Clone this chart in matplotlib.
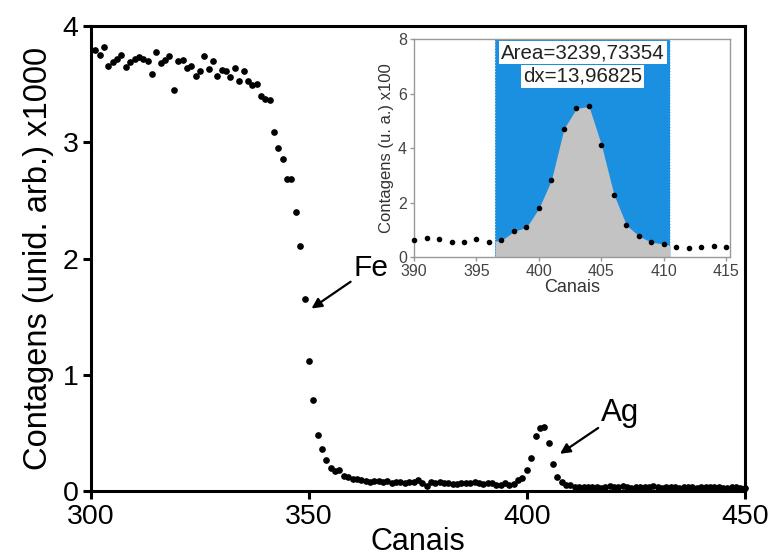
import numpy as np
import matplotlib
matplotlib.use('Agg')
import matplotlib.pyplot as plt

plt.rcParams['font.family'] = ['Liberation Sans', 'DejaVu Sans']

# canais 301..450, contagens em unidades de 1000
canais = np.arange(301, 451)
contagens = [
    3.79, 3.75, 3.82, 3.66, 3.69, 3.72, 3.75, 3.65, 3.69, 3.72,   # 301-310
    3.73, 3.72, 3.70, 3.59, 3.78, 3.68, 3.71, 3.74, 3.45, 3.70,   # 311-320
    3.71, 3.64, 3.66, 3.57, 3.61, 3.74, 3.63, 3.70, 3.57, 3.62,   # 321-330
    3.61, 3.56, 3.64, 3.53, 3.61, 3.53, 3.49, 3.50, 3.40, 3.37,   # 331-340
    3.36, 3.09, 2.95, 2.86, 2.68, 2.68, 2.40, 2.11, 1.65, 1.12,   # 341-350
    0.78, 0.48, 0.36, 0.27, 0.20, 0.17, 0.18, 0.13, 0.12, 0.10,   # 351-360
    0.10, 0.095, 0.09, 0.08, 0.085, 0.09, 0.075, 0.085, 0.07, 0.08,   # 361-370
    0.075, 0.07, 0.075, 0.08, 0.095, 0.07, 0.045, 0.075, 0.07, 0.075,  # 371-380
    0.07, 0.065, 0.06, 0.06, 0.065, 0.07, 0.065, 0.075, 0.065, 0.061,  # 381-390
    0.069, 0.065, 0.056, 0.055, 0.066, 0.055, 0.061, 0.094, 0.109, 0.179,  # 391-400
    0.283, 0.471, 0.545, 0.553, 0.411, 0.229, 0.117, 0.077, 0.054, 0.048,  # 401-410
    0.036, 0.034, 0.036, 0.039, 0.036, 0.035, 0.03, 0.036, 0.04, 0.031,    # 411-420
    0.034, 0.041, 0.036, 0.029, 0.038, 0.035, 0.031, 0.034, 0.04, 0.036,   # 421-430
    0.03, 0.033, 0.039, 0.035, 0.029, 0.034, 0.038, 0.036, 0.03, 0.034,    # 431-440
    0.031, 0.036, 0.039, 0.033, 0.03, 0.028, 0.034, 0.031, 0.029, 0.027,   # 441-450
]

# inset: canais 390..415, contagens x100
canais_inset = np.arange(390, 416)
contagens_inset = [0.61, 0.69, 0.65, 0.56, 0.55, 0.66, 0.55, 0.61, 0.94, 1.09,
                   1.79, 2.83, 4.71, 5.45, 5.53, 4.11, 2.29, 1.17, 0.77, 0.54,
                   0.48, 0.36, 0.34, 0.36, 0.39, 0.36]
pico_ini, pico_fim = 396.5, 410.5
texto_area = 'Area=3239,73354'
texto_dx = 'dx=13,96825'

fig = plt.figure(figsize=(7.71, 5.58), dpi=100)
ax = fig.add_axes([0.118, 0.12, 0.848, 0.8334])
ax.plot(canais, contagens, 'o', color='black', markersize=3.8, clip_on=False)
ax.set_xlim(300, 450)
ax.set_ylim(0, 4)
ax.set_xticks([300, 350, 400, 450])
ax.set_yticks([0, 1, 2, 3, 4])
for s in ax.spines.values():
    s.set_linewidth(2.2)
ax.tick_params(direction='out', length=6, width=2.2, labelsize=20.5, pad=3)
ax.set_xlabel('Canais', fontsize=22, labelpad=-2)
ax.set_ylabel('Contagens (unid. arb.) x1000', fontsize=23.5, labelpad=6)

ax.annotate('Fe', xy=(350.6, 1.57), xytext=(360.2, 1.92), fontsize=21.5,
            va='center', ha='left',
            arrowprops=dict(arrowstyle='-|>', color='black', lw=1.6,
                            mutation_scale=15, shrinkA=0, shrinkB=0))
ax.annotate('Ag', xy=(407.6, 0.32), xytext=(417.0, 0.67), fontsize=22.5,
            va='center', ha='left',
            arrowprops=dict(arrowstyle='-|>', color='black', lw=1.6,
                            mutation_scale=15, shrinkA=0, shrinkB=0))

# inset
axi = fig.add_axes([0.537, 0.5394, 0.41, 0.3907])
axi.set_xlim(390, 415.3)
axi.set_ylim(0, 8)
axi.axvspan(pico_ini, pico_fim, color='#1b8fe0', zorder=0, lw=0)
xf = np.linspace(pico_ini, pico_fim, 200)
axi.fill_between(xf, 0, np.interp(xf, canais_inset, contagens_inset),
                 color='#c3c3c3', lw=0, zorder=1)
for xv in (pico_ini, pico_fim):
    axi.axvline(xv, color='#9fd0f5', lw=0.8, ls=':', zorder=2)
axi.plot(canais_inset, contagens_inset, 'o', color='black', markersize=3,
         zorder=3, clip_on=False)
axi.set_xticks([390, 395, 400, 405, 410, 415])
axi.set_yticks([0, 2, 4, 6, 8])
for s in axi.spines.values():
    s.set_color('#999999')
    s.set_linewidth(1.0)
axi.tick_params(direction='out', length=3, width=1, colors='#999999',
                labelcolor='#444444', labelsize=11.5, pad=2)
axi.set_xlabel('Canais', fontsize=13, color='#333333', labelpad=0)
axi.set_ylabel('Contagens (u. a.) x100', fontsize=12, color='#333333',
               labelpad=3)
caixa = dict(facecolor='white', edgecolor='none', pad=1.5)
axi.text((pico_ini + pico_fim) / 2, 7.49, texto_area, ha='center',
         va='center', fontsize=14.8, color='#222222', bbox=caixa, zorder=4)
axi.text((pico_ini + pico_fim) / 2, 6.64, texto_dx, ha='center',
         va='center', fontsize=14.8, color='#222222', bbox=caixa, zorder=4)

fig.savefig('out.png', dpi=100)
